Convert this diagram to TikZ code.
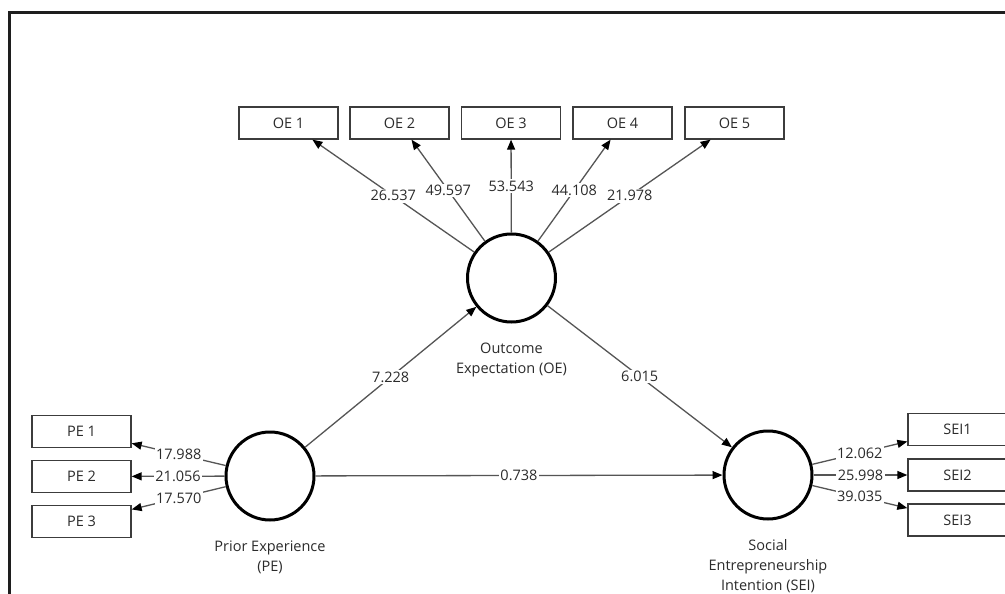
\documentclass[tikz,border=0pt]{standalone}
\usepackage{fontspec}
\setmainfont{Open Sans}
\usetikzlibrary{arrows.meta,positioning}
\definecolor{txt}{HTML}{2B2B2B}
\definecolor{ln}{HTML}{555555}
\definecolor{bx}{HTML}{3C3C3C}
\definecolor{frame}{HTML}{1E1E1E}
\begin{document}
\begin{tikzpicture}[x=1pt,y=-1pt,
  every node/.style={font=\fontsize{14.5}{20}\selectfont, text=txt},
  ind/.style={draw=bx, line width=1.3pt, minimum width=99pt, minimum height=32pt, inner sep=0pt, fill=white},
  lat/.style={circle, draw=black, line width=3pt, minimum size=88pt, inner sep=0pt},
  lbl/.style={align=center, inner sep=0pt},
  con/.style={draw=ln, line width=1.3pt, -{Triangle[length=10pt,width=8pt,color=black]}},
  num/.style={fill=white, inner sep=1.5pt, pos=0.5}]
\useasboundingbox (0,0) rectangle (1005,594);
\clip (0,0) rectangle (1005,594);
\fill[white] (0,0) rectangle (1005,594);
\draw[line width=3pt, draw=frame] (9.5,620) -- (9.5,12.5) -- (1030,12.5);

% latent variables
\node[lat] (oe) at (511.5,278) {};
\node[lat] (pe) at (270,476) {};
\node[lat] (sei) at (768,475) {};
\node[lbl, below=19pt of oe] (oel) {Outcome\\Expectation (OE)};
\node[lbl, below=19pt of pe] (pel) {Prior Experience\\(PE)};
\node[lbl, below=19pt of sei] (seil) {Social\\Entrepreneurship\\Intention (SEI)};

% indicators
\node[ind] (oe1) at (288.5,123) {OE 1};
\node[ind] (oe2) at (399.5,123) {OE 2};
\node[ind] (oe3) at (511,123) {OE 3};
\node[ind] (oe4) at (622.5,123) {OE 4};
\node[ind] (oe5) at (734.5,123) {OE 5};
\node[ind] (pe1) at (81.5,431.5) {PE 1};
\node[ind] (pe2) at (81.5,476.5) {PE 2};
\node[ind] (pe3) at (81.5,521.5) {PE 3};
\node[ind] (sei1) at (957.5,429.5) {SEI1};
\node[ind] (sei2) at (957.5,475) {SEI2};
\node[ind] (sei3) at (957.5,520) {SEI3};

% outer loadings
\draw[con] (oe) -- node[num]{26.537} (oe1);
\draw[con] (oe) -- node[num]{49.597} (oe2);
\draw[con] (oe) -- node[num]{53.543} (oe3);
\draw[con] (oe) -- node[num]{44.108} (oe4);
\draw[con] (oe) -- node[num]{21.978} (oe5);
\draw[con] (pe) -- node[num]{17.988} (pe1);
\draw[con] (pe) -- node[num]{21.056} (pe2);
\draw[con] (pe) -- node[num]{17.570} (pe3);
\draw[con] (sei) -- node[num]{12.062} (sei1);
\draw[con] (sei) -- node[num]{25.998} (sei2);
\draw[con] (sei) -- node[num]{39.035} (sei3);

% structural paths
\draw[con] (pe) -- node[num]{7.228} (oe);
\draw[con] (oe) -- node[num]{6.015} (sei);
\draw[con] (pe) -- node[num]{0.738} (sei);
\end{tikzpicture}
\end{document}
